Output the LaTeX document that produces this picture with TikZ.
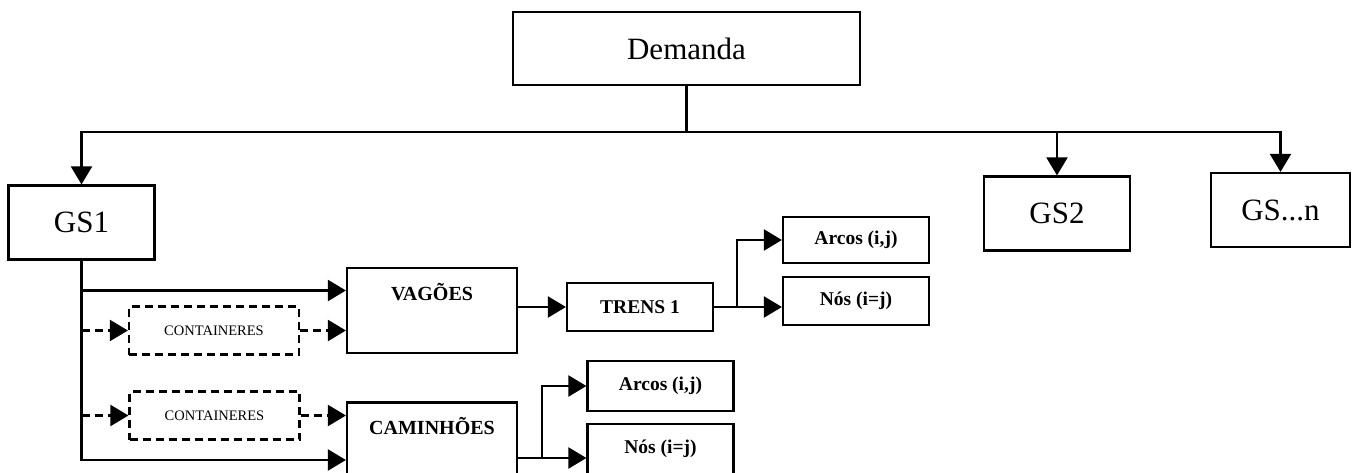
\documentclass[tikz,border=0pt]{standalone}
\usepackage{fontspec}
\setmainfont{Liberation Serif}
\usetikzlibrary{arrows.meta}

\tikzset{
  box/.style={draw, line width=2.2pt, inner sep=0pt},
  gsbox/.style={box, minimum width=146pt, minimum height=74pt, font=\fontsize{31}{36}\selectfont},
  bigbox/.style={box, minimum width=170pt, minimum height=85pt, text depth=38pt, font=\fontsize{20}{24}\selectfont\bfseries},
  smallbox/.style={box, minimum width=146pt, minimum height=47pt, font=\fontsize{19.5}{23}\selectfont\bfseries},
  contbox/.style={box, dash pattern=on 8pt off 5pt, minimum width=170pt, minimum height=48pt, font=\fontsize{14.5}{17}\selectfont},
  arr/.style={-{Triangle[length=18pt,width=21pt]}},
  dashline/.style={dash pattern=on 8pt off 5pt}
}

\begin{document}
\begin{tikzpicture}[x=1pt, y=-1pt, line width=2.2pt]
            \useasboundingbox (0,0) rectangle (1353,472);

            \node[box, minimum width=347pt, minimum height=73pt, font=\fontsize{31}{36}\selectfont] (dem) at (686.5,48.5) {Demanda};
            \node[gsbox] (gs1) at (81.5,222.5) {GS1};
            \node[gsbox] (gs2) at (1057,213.5) {GS2};
            \node[gsbox, minimum width=139pt] (gsn) at (1280.5,210) {GS...n};

            \draw (dem.south) to ++(0,46) coordinate(bus);
            \draw[arr] (bus) -| (gs1.north);
            \draw[arr] (bus) -| (gs2.north);
            \draw[arr] (bus) -| (gsn.north);

            \node[bigbox] (vag) at (432,310.5) {VAGÕES};
            \node[bigbox] (cam) at (432,445) {CAMINHÕES};
            \node[contbox] (cont1) at (214,330.5) {CONTAINERES};
            \node[contbox] (cont2) at (214.5,415.5) {CONTAINERES};

            % tronco do GS1
            \draw[arr] (gs1.south) |- ([yshift=20pt]vag.west);
            \draw[arr] (gs1.south) |- ([yshift=-15pt]cam.west);
            \draw[dashline, arr] (gs1.south |- cont1.west) to (cont1.west);
            \draw[dashline, arr] (gs1.south |- cont2.west) to (cont2.west);
            \draw[dashline, arr] (cont1.east) to (cont1.east -| vag.west);
            \draw[dashline, arr] (cont2.east) to (cont2.east -| cam.west);

            \node[smallbox, minimum height=48pt] (trens) at (640,307) {TRENS 1};
            \node[smallbox, minimum height=46pt] (arc1) at (856,240) {Arcos (i,j)};
            \node[smallbox, minimum height=48pt] (nos1) at (856,301) {Nós (i=j)};
            \node[smallbox, minimum height=50pt] (arc2) at (660.5,386) {Arcos (i,j)};
            \node[smallbox, minimum height=50pt] (nos2) at (660.5,449) {Nós (i=j)};

            \draw[arr] (vag.east |- trens.west) to (trens.west);
            \draw[arr] (trens.east) to ++(23,0) |- (arc1.west);
            \draw[arr] (trens.east) to (trens.east -| nos1.west);

            \draw[arr] ([yshift=-13pt]cam.east) to ++(24,0) |- (arc2.west);
            \draw[arr] ([yshift=-13pt]cam.east) to ([yshift=-13pt]cam.east -| nos2.west);

        \end{tikzpicture}
\end{document}
